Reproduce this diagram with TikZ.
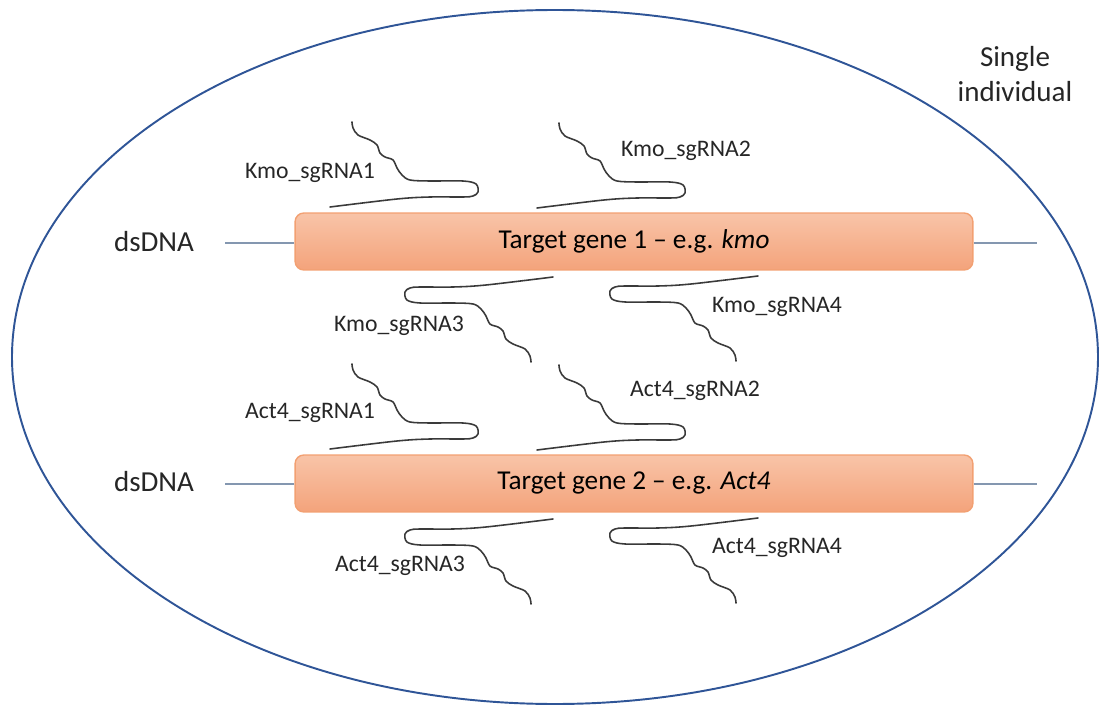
\documentclass[tikz,border=0pt]{standalone}
\usepackage{fontspec}
\setmainfont{Carlito}
\usepackage{xcolor}
\usetikzlibrary{positioning}

\definecolor{cellblue}{HTML}{2F5597}
\definecolor{genetop}{HTML}{F8C4A8}
\definecolor{genebot}{HTML}{F4A37B}
\definecolor{geneline}{HTML}{F2A072}
\definecolor{dnaline}{HTML}{8497B0}
\definecolor{rnagray}{HTML}{3A3A3A}

\begin{document}
\begin{tikzpicture}[
  x=0.02cm, y=-0.02cm,
  gene/.style={
    draw=geneline,
    line width=0.8pt,
    top color=genetop,
    bottom color=genebot,
    rounded corners=5pt,
    minimum width=13.56cm,
    minimum height=1.14cm,
    font=\fontsize{15.5}{18}\selectfont
  },
  strand/.style={draw=dnaline, line width=0.7pt},
  rna/.style={draw=rnagray, line width=0.9pt, line cap=round, line join=round},
  tag/.style={font=\fontsize{13.5}{16}\selectfont, text=black!85},
  big/.style={font=\fontsize{16.5}{19.5}\selectfont, text=black!85, align=center},
  guide/.pic={
    \draw[rna] plot[smooth, tension=0.55] coordinates {
      (-126,-70) (-125,-64) (-120,-57) (-108,-52) (-101,-47) (-98,-39)
      (-93,-35) (-85,-32) (-81,-24) (-76,-17) (-68,-12) (-48,-11)
      (-15,-11) (-2,-8) (0,0) (-5,4) (-15,5) (-48,5) (-81,7) (-148,15)};
  }
]
\useasboundingbox (0,0) rectangle (1100,713);

% the individual
\draw[cellblue, line width=1.1pt] (555,357) ellipse [x radius=543, y radius=347];
\node[big] (indiv) at (1015,74) {Single\\individual};

% target genes
\node[gene] (kmo) at (634,241.5) {Target gene 1 -- e.g. \textit{kmo}};
\node[gene] (act) at (634,483.5) {Target gene 2 -- e.g. \textit{Act4}};

% dsDNA strands
\coordinate (kmoL) at (225,243);
\coordinate (kmoR) at (1037,243);
\coordinate (actL) at (225,484);
\coordinate (actR) at (1037,484);
\draw[strand] (kmo.west |- kmoL) -- (kmoL);
\draw[strand] (kmo.east |- kmoR) -- (kmoR);
\draw[strand] (act.west |- actL) -- (actL);
\draw[strand] (act.east |- actR) -- (actR);
\node[big] (dnaone) at (154,242) {dsDNA};
\node[big] (dnatwo) at (154,482) {dsDNA};

% guides for gene 1
\pic at (478,192) {guide};
\pic at (685,193) {guide};
\pic[rotate=180] at (405,292) {guide};
\pic[rotate=180] at (610,291) {guide};
\node[tag] (kmoA) at (310,173) {Kmo\_sgRNA1};
\node[tag] (kmoB) at (686,151) {Kmo\_sgRNA2};
\node[tag] (kmoC) at (399,326) {Kmo\_sgRNA3};
\node[tag] (kmoD) at (777,307) {Kmo\_sgRNA4};

% guides for gene 2
\pic at (478,434) {guide};
\pic at (685,435) {guide};
\pic[rotate=180] at (405,534) {guide};
\pic[rotate=180] at (610,533) {guide};
\node[tag] (actA) at (310,413) {Act4\_sgRNA1};
\node[tag] (actB) at (695,391) {Act4\_sgRNA2};
\node[tag] (actC) at (400,566) {Act4\_sgRNA3};
\node[tag] (actD) at (777,548) {Act4\_sgRNA4};

\end{tikzpicture}
\end{document}
